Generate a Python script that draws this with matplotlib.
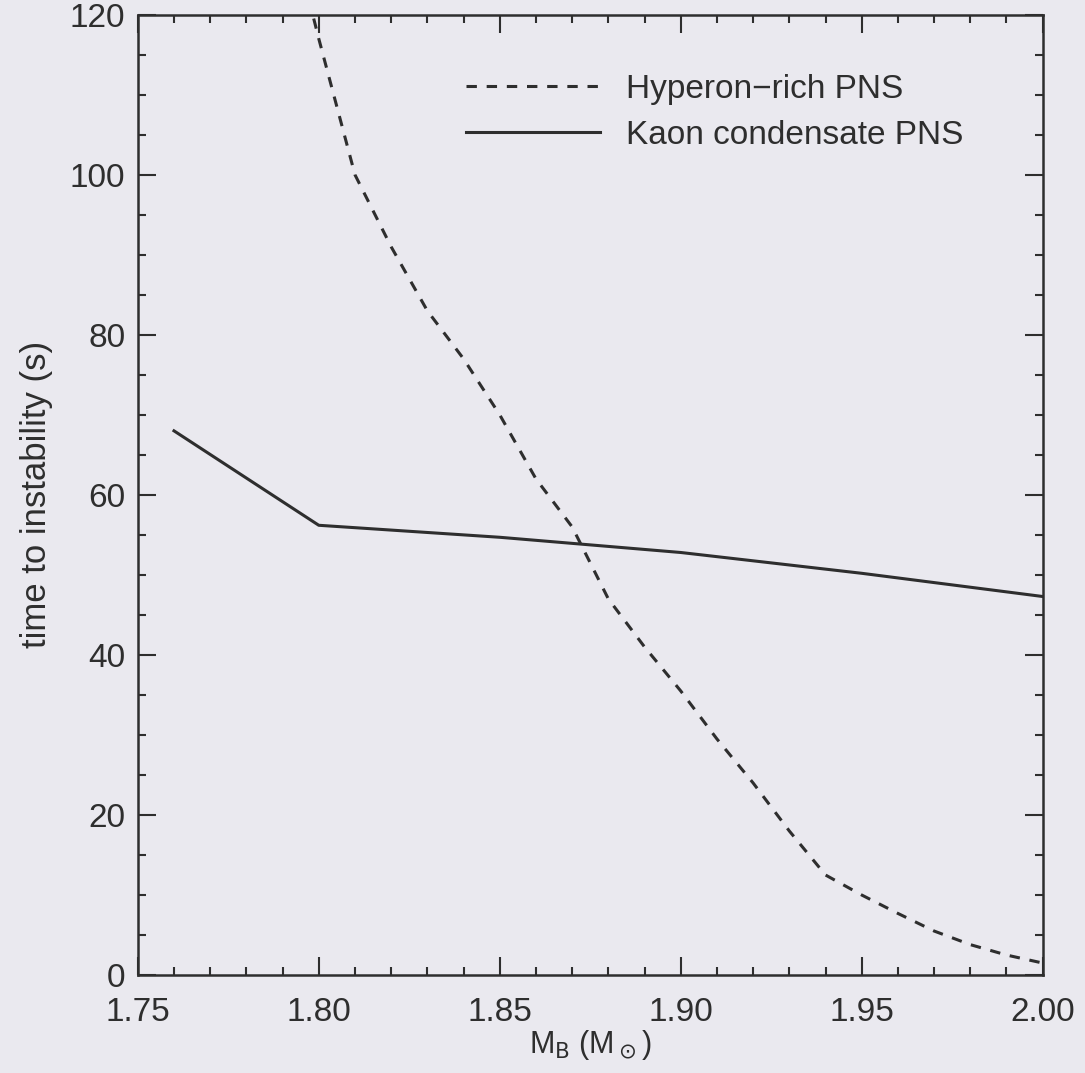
import matplotlib.pyplot as plt
from matplotlib.ticker import MultipleLocator

# Hyperon-rich PNS (dashed)
hyp_mass = [1.79, 1.80, 1.81, 1.82, 1.83, 1.84, 1.85, 1.86, 1.87, 1.88, 1.89,
            1.90, 1.91, 1.92, 1.93, 1.94, 1.95, 1.96, 1.97, 1.98, 1.99, 2.00]
hyp_time = [135, 117, 100, 91, 83, 77, 70, 62, 56, 47, 41,
            35.5, 29.5, 24, 18, 12.5, 10, 7.7, 5.5, 3.8, 2.5, 1.5]

# Kaon condensate PNS (solid)
kaon_mass = [1.76, 1.80, 1.85, 1.90, 1.95, 2.00]
kaon_time = [68, 56.2, 54.7, 52.8, 50.2, 47.3]

bg = "#eae9ef"
ink = "#2e2e2e"

plt.rcParams["font.family"] = ["Liberation Sans", "DejaVu Sans"]

fig = plt.figure(figsize=(10.85, 10.73), dpi=100, facecolor=bg)
ax = fig.add_axes([0.127, 0.0913, 0.834, 0.895], facecolor=bg)

ax.plot(hyp_mass, hyp_time, color=ink, lw=2.2, dashes=(3.4, 3.2),
        label="Hyperon\u2212rich PNS")
ax.plot(kaon_mass, kaon_time, color=ink, lw=2.2, label="Kaon condensate PNS")

ax.set_xlim(1.75, 2.00)
ax.set_ylim(0, 120)
ax.xaxis.set_major_locator(MultipleLocator(0.05))
ax.xaxis.set_minor_locator(MultipleLocator(0.01))
ax.yaxis.set_major_locator(MultipleLocator(20))
ax.yaxis.set_minor_locator(MultipleLocator(5))
ax.xaxis.set_major_formatter(lambda v, p: f"{v:.2f}")

ax.tick_params(which="both", direction="in", top=True, right=True,
               colors=ink, labelsize=24, width=1.5)
ax.tick_params(which="major", length=13)
ax.tick_params(axis="y", which="major", pad=9)
ax.tick_params(axis="x", which="major", pad=16)
ax.tick_params(which="minor", length=6)
for s in ax.spines.values():
    s.set_linewidth(1.8)
    s.set_color(ink)

ax.set_xlabel(r"M$_{\rm B}$ (M$_\odot$)", fontsize=22, color=ink, labelpad=0)
ax.set_ylabel("time to instability (s)", fontsize=25, color=ink, labelpad=12)

ax.legend(loc="upper left", bbox_to_anchor=(0.33, 0.97), frameon=False,
          fontsize=24, handlelength=4.0, handletextpad=0.8, labelspacing=0.45,
          labelcolor=ink)

fig.savefig("out.png", dpi=100, facecolor=bg)
